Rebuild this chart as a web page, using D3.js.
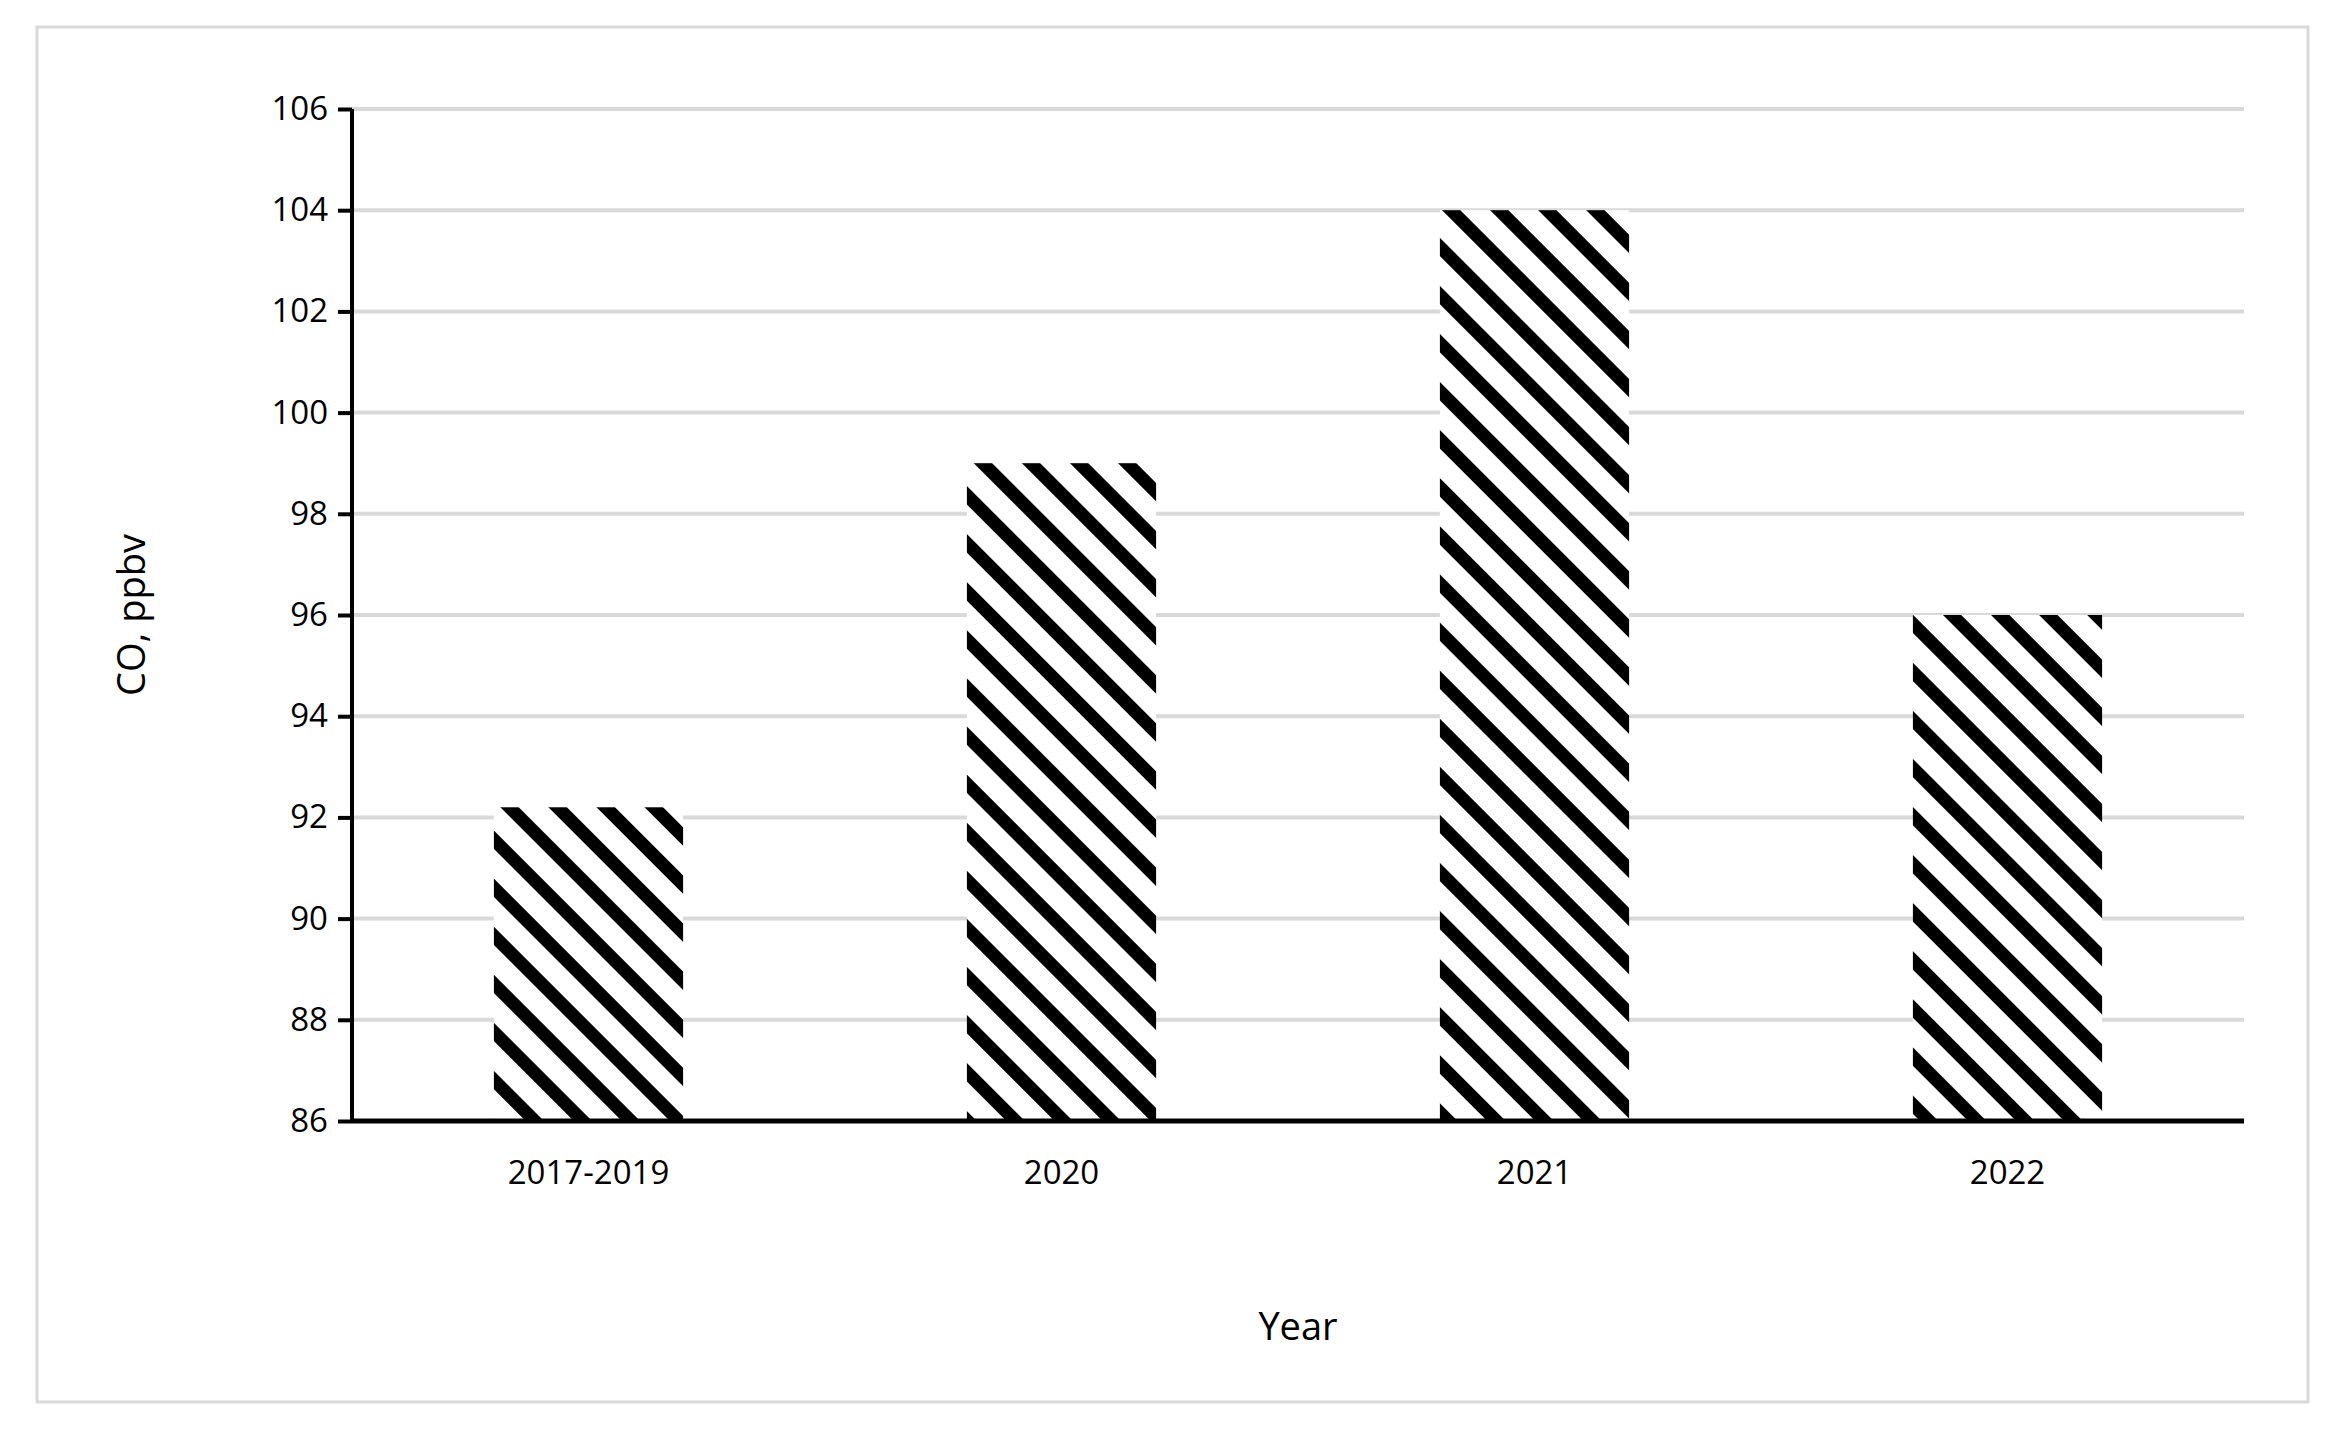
<!DOCTYPE html>
<html>
<head>
<meta charset="utf-8">
<script src="https://cdn.jsdelivr.net/npm/d3@7"></script>
<style>
  body { margin: 0; background: #fff; }
  text { font-family: "Open Sans", "Liberation Sans", sans-serif; fill: #000; }
</style>
</head>
<body>
<svg></svg>
<script>
'use strict'

const WIDTH = 2346;
const HEIGHT = 1437;

const categories = ['2017-2019', '2020', '2021', '2022'];
const coValues = [92.2, 99.0, 104.0, 96.0];
const yTicks = [86, 88, 90, 92, 94, 96, 98, 100, 102, 104, 106];

const svg = d3.select('svg').attr('width', WIDTH).attr('height', HEIGHT);

// frame around the chart
svg.append('rect')
  .attr('x', 37).attr('y', 27).attr('width', 2271).attr('height', 1375)
  .attr('fill', 'none').attr('stroke', '#d9d9d9').attr('stroke-width', 3);

const pat = svg.append('defs').append('pattern')
  .attr('id', 'hatch')
  .attr('patternUnits', 'userSpaceOnUse')
  .attr('width', 34).attr('height', 34)
  .attr('patternTransform', 'rotate(45)');
pat.append('rect').attr('width', 34).attr('height', 34).attr('fill', '#fff');
pat.append('rect').attr('y', 0).attr('width', 34).attr('height', 13).attr('fill', '#000');

const plotLeft = 352, plotRight = 2244, plotTop = 109, plotBottom = 1121;

const x = d3.scaleBand().domain(categories).range([plotLeft, plotRight]).paddingInner(0.6).paddingOuter(0.3);
const y = d3.scaleLinear().domain([86, 106]).range([plotBottom, plotTop]);

// gridlines
svg.append('g')
  .selectAll('line').data(yTicks.slice(1)).enter().append('line')
  .attr('x1', plotLeft).attr('x2', plotRight)
  .attr('y1', d => y(d)).attr('y2', d => y(d))
  .attr('stroke', '#d9d9d9').attr('stroke-width', 4);

svg.append('g')
  .selectAll('rect').data(coValues).enter().append('rect')
  .attr('x', (d, i) => x(categories[i]))
  .attr('y', d => y(d))
  .attr('width', x.bandwidth())
  .attr('height', d => plotBottom - y(d))
  .attr('fill', 'url(#hatch)');

const leftAxis = d3.axisLeft(y).tickValues(yTicks).tickSize(14).tickPadding(10);
const gl = svg.append('g').attr('transform', 'translate(' + plotLeft + ',0)').call(leftAxis);
gl.select('.domain').attr('stroke', '#000').attr('stroke-width', 4).attr('d', 'M0,' + plotTop + 'V' + plotBottom);
gl.selectAll('.tick line').attr('stroke', '#000').attr('stroke-width', 4);
gl.selectAll('.tick text').style('font-size', '33px');

const bottomAxis = d3.axisBottom(x).tickSize(0).tickPadding(40);
const gb = svg.append('g').attr('transform', 'translate(0,' + plotBottom + ')').call(bottomAxis);
gb.select('.domain').attr('stroke', '#000').attr('stroke-width', 5).attr('d', 'M' + plotLeft + ',0H' + plotRight);
gb.selectAll('.tick text').style('font-size', '33px');

svg.append('text')
  .attr('x', (plotLeft + plotRight) / 2).attr('y', 1340)
  .attr('text-anchor', 'middle').style('font-size', '38px').text('Year');

svg.append('text')
  .attr('transform', 'translate(145,' + (plotTop + plotBottom) / 2 + ') rotate(-90)')
  .attr('text-anchor', 'middle').style('font-size', '38px').text('CO, ppbv');
</script>
</body>
</html>
